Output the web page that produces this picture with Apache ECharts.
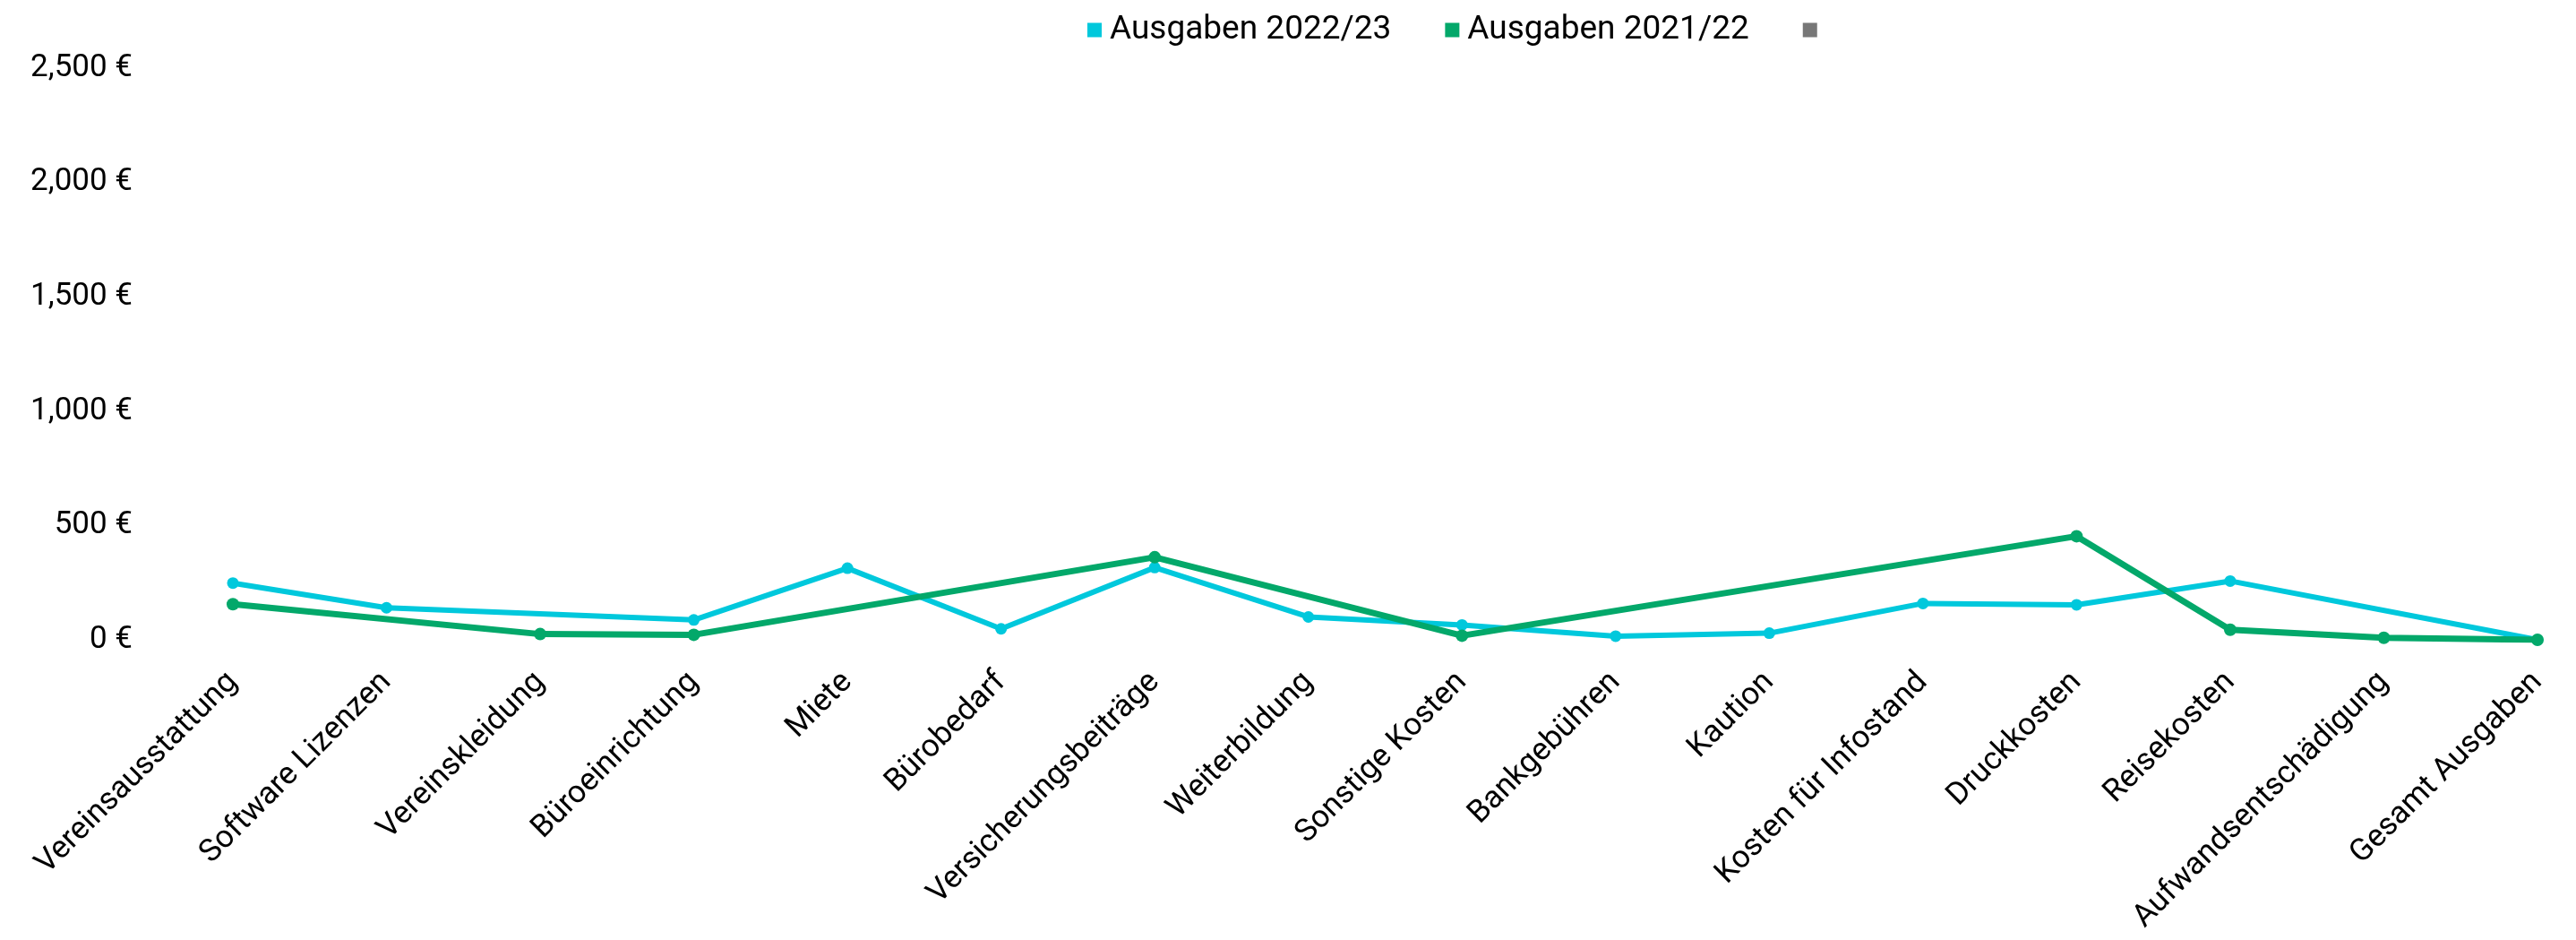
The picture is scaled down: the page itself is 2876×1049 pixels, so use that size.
<!DOCTYPE html>
<html>
<head>
<meta charset="utf-8">
<style>
  html, body { margin: 0; padding: 0; background: #ffffff; }
  #chart { width: 2876px; height: 1049px; }
</style>
<script src="https://cdn.jsdelivr.net/npm/echarts@6/dist/echarts.min.js"></script>
</head>
<body>
<div id="chart"></div>
<script>
// Expense categories
const categories = [
  'Vereinsausstattung', 'Software Lizenzen', 'Vereinskleidung', 'Büroeinrichtung',
  'Miete', 'Bürobedarf', 'Versicherungsbeiträge', 'Weiterbildung', 'Sonstige Kosten',
  'Bankgebühren', 'Kaution', 'Kosten für Infostand', 'Druckkosten', 'Reisekosten',
  'Aufwandsentschädigung', 'Gesamt Ausgaben'
];

// Expenses per year (null = no entry for that category)
const ausgaben2022 = [248, 140, null, 87, 313, 48, 316, 100, 65, 16, 29, 159, 153, 257, null, 0];
const ausgaben2021 = [156, null, 25, 22, null, null, 361, null, 18, null, null, null, 453, 44, 9, 0];

// Value axis ticks
const yTicks = [0, 500, 1000, 1500, 2000, 2500];

const seriesNames = ['Ausgaben 2022/23', 'Ausgaben 2021/22', ' '];
const colors = ['#00C8DC', '#03A86A', '#777777'];

const fontFamily = 'Roboto, "Noto Sans", sans-serif';

const chart = echarts.init(document.getElementById('chart'), null, { renderer: 'canvas' });

function euro(v) {
  return v.toLocaleString('en-US') + ' €';
}

chart.setOption({
  animation: false,
  backgroundColor: '#ffffff',
  color: colors,
  textStyle: { fontFamily: fontFamily },
  legend: {
    data: seriesNames,
    top: 10,
    left: 1209,
    itemWidth: 16,
    itemHeight: 16,
    itemGap: 60,
    icon: 'rect',
    textStyle: { fontFamily: fontFamily, fontSize: 37, color: '#000000', padding: [0, 0, 0, 4] }
  },
  grid: { left: 260, right: 43, top: 76, bottom: 335, containLabel: false },
  xAxis: {
    type: 'category',
    data: categories,
    boundaryGap: false,
    axisLine: { show: false },
    axisTick: { show: false },
    splitLine: { show: false },
    axisLabel: {
      interval: 0,
      rotate: 45,
      margin: 42,
      fontFamily: fontFamily,
      fontSize: 35,
      color: '#000000'
    }
  },
  yAxis: {
    type: 'value',
    min: yTicks[0],
    max: yTicks[yTicks.length - 1],
    interval: yTicks[1] - yTicks[0],
    axisLine: { show: false },
    axisTick: { show: false },
    splitLine: { show: false },
    axisLabel: {
      margin: 112,
      fontFamily: fontFamily,
      fontSize: 35,
      color: '#000000',
      formatter: euro
    }
  },
  series: [
    {
      name: seriesNames[0],
      type: 'line',
      data: ausgaben2022,
      connectNulls: true,
      symbol: 'circle',
      symbolSize: 13,
      lineStyle: { width: 6, color: colors[0] },
      itemStyle: { color: colors[0] },
      z: 2
    },
    {
      name: seriesNames[1],
      type: 'line',
      data: ausgaben2021,
      connectNulls: true,
      symbol: 'circle',
      symbolSize: 14,
      lineStyle: { width: 7, color: colors[1] },
      itemStyle: { color: colors[1] },
      z: 3
    },
    {
      name: seriesNames[2],
      type: 'line',
      data: [],
      itemStyle: { color: colors[2] },
      lineStyle: { color: colors[2] }
    }
  ]
});
</script>
</body>
</html>
